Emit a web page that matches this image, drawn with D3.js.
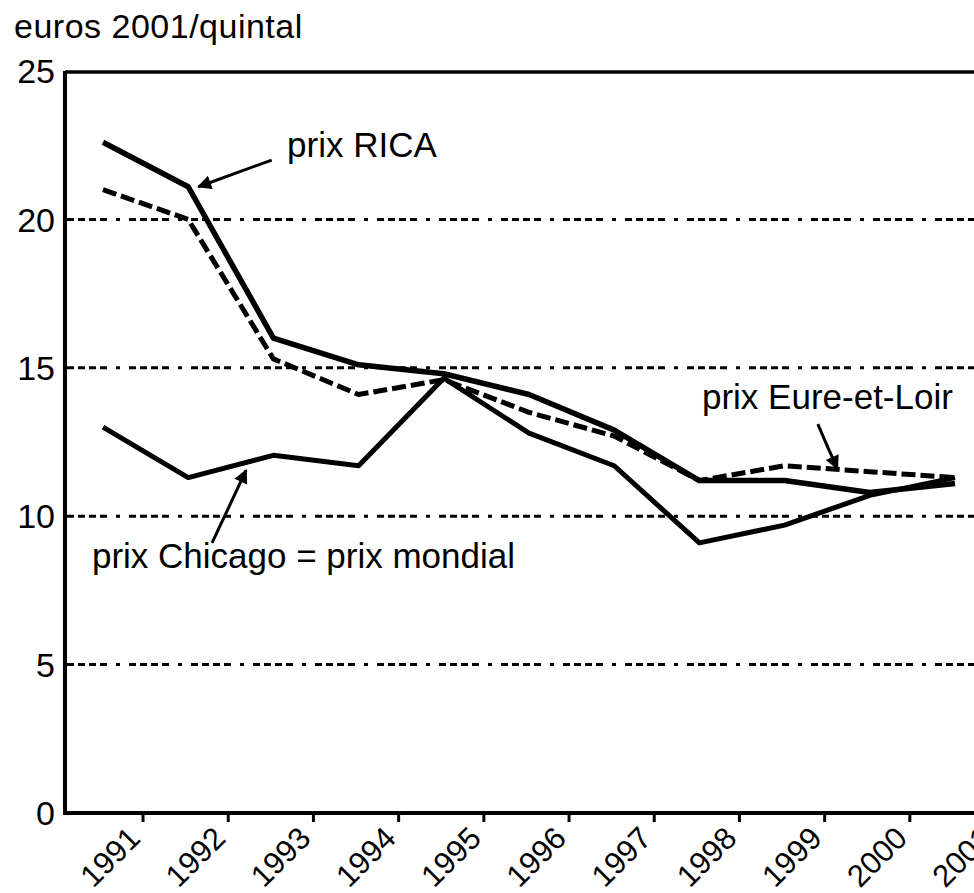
<!DOCTYPE html>
<html>
<head>
<meta charset="utf-8">
<script src="https://cdn.jsdelivr.net/npm/d3@7/dist/d3.min.js"></script>
<style>
body { margin: 0; background: #fff; }
svg text { font-family: "Liberation Sans", Arial, sans-serif; fill: #000; }
</style>
</head>
<body>
<script>
// prix du blé, euros 2001 par quintal
var years = [1991, 1992, 1993, 1994, 1995, 1996, 1997, 1998, 1999, 2000, 2001];
var prixRICA = [22.6, 21.1, 16.0, 15.1, 14.8, 14.1, 12.9, 11.2, 11.2, 10.8, 11.1];
var prixEure = [21.0, 20.0, 15.3, 14.1, 14.6, 13.5, 12.7, 11.2, 11.7, 11.5, 11.3];
var prixChicago = [13.0, 11.3, 12.05, 11.7, 14.65, 12.8, 11.7, 9.1, 9.7, 10.7, 11.3];
var yTicks = [0, 5, 10, 15, 20, 25];
var yTitle = "euros 2001/quintal";

// annotations: label + arrow (tail -> tip), in data units
var notes = [
    { label: "prix RICA", lx: 1993.16, ly: 22.1, arrow: [[1992.98, 22.0], [1992.12, 21.1]] },
    { label: "prix Eure-et-Loir", lx: 1998.03, ly: 13.6, arrow: [[1999.39, 13.1], [1999.51, 12.3], [1999.62, 11.6]] },
    { label: "prix Chicago = prix mondial", lx: 1990.87, ly: 8.25, arrow: [[1992.28, 9.1], [1992.68, 11.55]] }
];

var width = 974, height = 893;
var plotLeft = 65, plotTop = 72, plotBottom = 813;

var svg = d3.select("body")
    .append("svg")
    .attr("width", width)
    .attr("height", height);

var x = d3.scaleLinear().domain([1991, 2001]).range([103, 955]);  // year -> px
var y = d3.scaleLinear().domain([0, 25]).range([plotBottom, plotTop - 1]);

svg.append("defs").append("marker")  // arrow head
    .attr("id", "head")
    .attr("viewBox", "0 0 10 10")
    .attr("refX", 9)
    .attr("refY", 5)
    .attr("markerWidth", 18)
    .attr("markerHeight", 14)
    .attr("markerUnits", "userSpaceOnUse")
    .attr("orient", "auto")
    .append("path")
    .attr("d", "M0,0 L10,5 L0,10 Z")
    .attr("fill", "#000");

// dash-dot gridlines
svg.append("g")
    .selectAll("line")
    .data(yTicks.filter(d => d > 0 && d < 25))
    .enter()
    .append("line")
    .attr("x1", plotLeft + 2)
    .attr("x2", width)
    .attr("y1", d => y(d))
    .attr("y2", d => y(d))
    .attr("stroke", "#000")
    .attr("stroke-width", 3)
    .attr("stroke-dasharray", "7,4,7,4,7,4,7,9,4,9");

// frame: top, left, bottom
svg.append("line").attr("x1", plotLeft).attr("x2", width).attr("y1", y(25) + 1).attr("y2", y(25) + 1)
    .attr("stroke", "#000").attr("stroke-width", 3.5);
svg.append("line").attr("x1", plotLeft).attr("x2", plotLeft).attr("y1", y(25)).attr("y2", plotBottom + 2)
    .attr("stroke", "#000").attr("stroke-width", 4);
svg.append("line").attr("x1", plotLeft - 2).attr("x2", width).attr("y1", plotBottom).attr("y2", plotBottom)
    .attr("stroke", "#000").attr("stroke-width", 4);

// y labels
svg.append("g")
    .selectAll("text")
    .data(yTicks)
    .enter()
    .append("text")
    .attr("x", 55)
    .attr("y", d => y(d))
    .attr("dy", "0.36em")
    .attr("text-anchor", "end")
    .attr("font-size", 34)
    .text(d => d);

svg.append("text")  // unit title
    .attr("x", 14)
    .attr("y", 38)
    .attr("font-size", 34)
    .attr("letter-spacing", "0.5")
    .text(yTitle);

// x ticks + rotated labels
var xt = svg.append("g");
xt.selectAll("line")
    .data(years)
    .enter()
    .append("line")
    .attr("x1", d => x(d + 0.47))
    .attr("x2", d => x(d + 0.47))
    .attr("y1", plotBottom + 2)
    .attr("y2", plotBottom + 9)
    .attr("stroke", "#000")
    .attr("stroke-width", 3);
xt.selectAll("text")
    .data(years)
    .enter()
    .append("text")
    .attr("text-anchor", "end")
    .attr("font-size", 31)
    .attr("transform", d => "translate(" + (x(d + 0.47) - 1) + "," + 840 + ") rotate(-45)")
    .text(d => d);

// series
var line = d3.line()
    .x((d, i) => x(years[i]))
    .y(d => y(d));

svg.append("path")
    .datum(prixChicago)
    .attr("d", line)
    .attr("fill", "none")
    .attr("stroke", "#000")
    .attr("stroke-width", 5)
    .attr("stroke-linejoin", "round");

svg.append("path")
    .datum(prixEure)
    .attr("d", line)
    .attr("fill", "none")
    .attr("stroke", "#000")
    .attr("stroke-width", 5)
    .attr("stroke-dasharray", "14,5");

svg.append("path")
    .datum(prixRICA)
    .attr("d", line)
    .attr("fill", "none")
    .attr("stroke", "#000")
    .attr("stroke-width", 5.5)
    .attr("stroke-linejoin", "round");

// annotations
var ann = svg.append("g");
ann.selectAll("path")
    .data(notes)
    .enter()
    .append("path")
    .attr("d", d => d3.line().x(p => x(p[0])).y(p => y(p[1]))(d.arrow))
    .attr("fill", "none")
    .attr("stroke", "#000")
    .attr("stroke-width", 3)
    .attr("marker-end", "url(#head)");
ann.selectAll("text")
    .data(notes)
    .enter()
    .append("text")
    .attr("x", d => x(d.lx))
    .attr("y", d => y(d.ly))
    .attr("font-size", 35)
    .text(d => d.label);
</script>
</body>
</html>
